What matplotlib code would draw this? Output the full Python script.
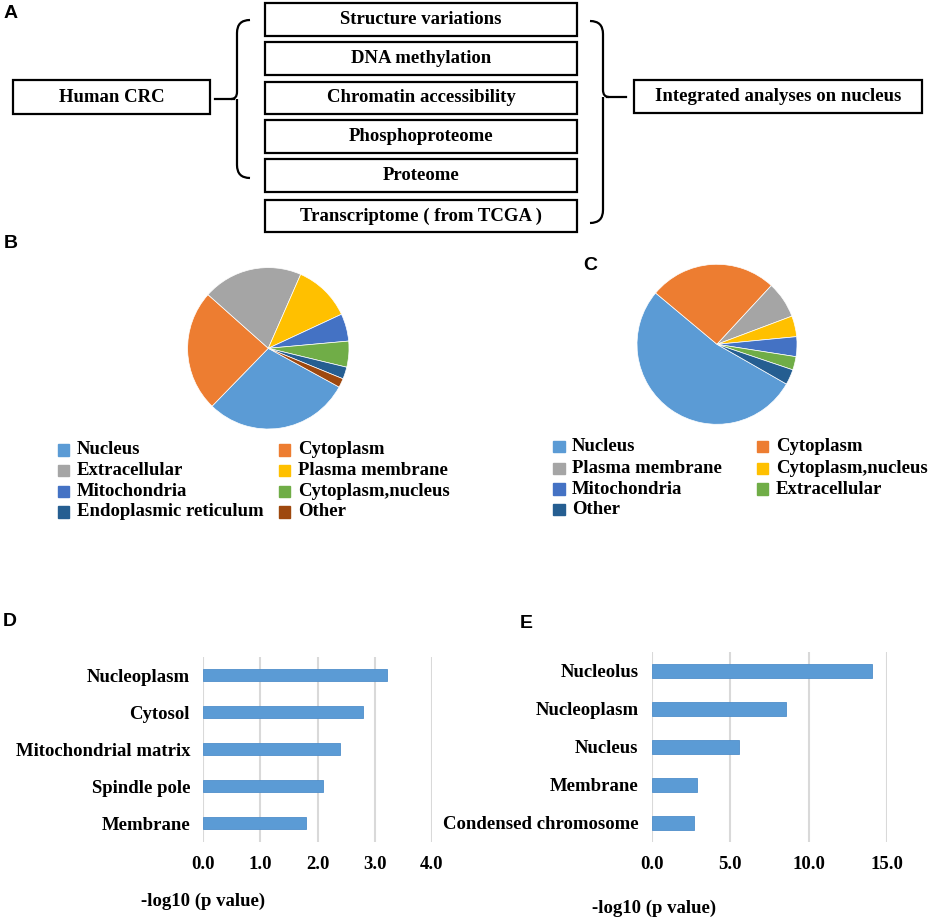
import matplotlib.pyplot as plt
from matplotlib.patches import Rectangle, PathPatch
from matplotlib.path import Path

W, H = 941, 923
SERIF = "Liberation Serif"
SANS = "Liberation Sans"
FS = 13.5

# panel A: workflow boxes
source_label = "Human CRC"
omics_labels = ["Structure variations", "DNA methylation", "Chromatin accessibility",
                "Phosphoproteome", "Proteome", "Transcriptome ( from TCGA )"]
target_label = "Integrated analyses on nucleus"

# panel B: subcellular location pie
b_labels = ["Nucleus", "Cytoplasm", "Extracellular", "Plasma membrane",
            "Mitochondria", "Cytoplasm,nucleus", "Endoplasmic reticulum", "Other"]
b_values = [29.3, 24.3, 20.0, 11.5, 5.5, 5.2, 2.4, 1.8]

# panel C
c_labels = ["Nucleus", "Cytoplasm", "Plasma membrane", "Cytoplasm,nucleus",
            "Mitochondria", "Extracellular", "Other"]
c_values = [52.8, 25.8, 7.4, 4.2, 4.0, 2.7, 3.1]

office = ["#5B9BD5", "#ED7D31", "#A5A5A5", "#FFC000", "#4472C4", "#70AD47", "#255E91", "#9E480E"]

# panel D / E: GO cellular component enrichment
d_terms = ["Nucleoplasm", "Cytosol", "Mitochondrial matrix", "Spindle pole", "Membrane"]
d_vals = [3.21, 2.80, 2.40, 2.10, 1.80]
e_terms = ["Nucleolus", "Nucleoplasm", "Nucleus", "Membrane", "Condensed chromosome"]
e_vals = [14.0, 8.53, 5.58, 2.90, 2.71]

fig = plt.figure(figsize=(W / 100, H / 100), dpi=100)

def px_axes(x0, y0, x1, y1):
    # axes from pixel box (top-left origin)
    return fig.add_axes([x0 / W, 1 - y1 / H, (x1 - x0) / W, (y1 - y0) / H])

ov = px_axes(0, 0, W, H)
ov.set_xlim(0, W)
ov.set_ylim(H, 0)
ov.axis("off")

# ---- panel A
def box(x0, y0, x1, y1, text):
    ov.add_patch(Rectangle((x0, y0), x1 - x0, y1 - y0, fill=False, lw=1.6, ec="black"))
    ov.text((x0 + x1) / 2, (y0 + y1) / 2, text, ha="center", va="center",
            family=SERIF, weight="bold", fontsize=FS)

box(13, 80, 210, 114, source_label)
rows = [(3, 36), (42, 75), (82, 114), (120, 153), (159, 192), (200, 232)]
for (y0, y1), lab in zip(rows, omics_labels):
    box(265, y0, 577, y1, lab)
box(634, 80, 922, 113, target_label)

M, C3, L = Path.MOVETO, Path.CURVE3, Path.LINETO
lb = Path([(250, 20), (237, 20), (237, 33), (237, 92), (237, 99), (231, 99),
           (237, 99), (237, 106), (237, 165), (237, 178), (250, 178)],
          [M, C3, C3, L, C3, C3, M, C3, L, C3, C3])
rb = Path([(590, 21), (603, 21), (603, 34), (603, 90), (603, 97), (609, 97),
           (603, 97), (603, 104), (603, 210), (603, 223), (590, 223)],
          [M, C3, C3, L, C3, C3, M, C3, L, C3, C3])
for p in (lb, rb):
    ov.add_patch(PathPatch(p, fill=False, lw=1.6, ec="black"))
ov.plot([215, 234], [99, 99], color="black", lw=1.6)
ov.plot([607, 626], [97, 97], color="black", lw=1.6)

# panel letters
for x, y, s in [(4, 14, "A"), (4, 244, "B"), (583, 265, "C"), (3, 621, "D"), (520, 623, "E")]:
    ov.text(x, y, s, ha="left", va="center", family=SANS, weight="bold", fontsize=14)

# ---- pies
def pie(cx, cy, r, values, start):
    ax = px_axes(cx - r, cy - r, cx + r, cy + r)
    ax.pie(values, colors=office[:len(values)], startangle=start, counterclock=False,
           wedgeprops=dict(edgecolor="white", linewidth=0.5))
    ax.set_xlim(-1, 1)
    ax.set_ylim(-1, 1)
    ax.axis("off")

pie(268.3, 348.3, 80.7, b_values, -28.7)
pie(717, 344.3, 80, c_values, -29.8)

def legend(labels, mx, tx, ys):
    for i, lab in enumerate(labels):
        r, c = divmod(i, 2)
        y = ys[r]
        ov.add_patch(Rectangle((mx[c], y - 5.8), 11.5, 11.5, color=office[i]))
        ov.text(tx[c], y, lab, ha="left", va="center", family=SERIF,
                weight="bold", fontsize=FS)

legend(b_labels, [58, 279], [77, 298], [450, 470.7, 491.3, 512])
legend(c_labels, [553.5, 757], [572, 776], [446.7, 468.3, 489, 509.3])

# ---- bar charts
def bars(box_px, terms, vals, xmax, step, height, label_xy):
    ax = px_axes(*box_px)
    ax.barh(range(len(terms)), vals, height=height, color="#5B9BD5", edgecolor="#4F8FCB", lw=0.6, zorder=3)
    ax.set_ylim(len(terms) - 0.5, -0.5)
    ax.set_xlim(0, xmax)
    ticks = [i * step for i in range(int(round(xmax / step)) + 1)]
    ax.set_xticks(ticks)
    ax.set_xticklabels([f"{t:.1f}" for t in ticks])
    ax.set_yticks(range(len(terms)))
    ax.set_yticklabels(terms)
    for s in ax.spines.values():
        s.set_visible(False)
    ax.grid(axis="x", color="#D9D9D9", lw=1.5, zorder=0)
    ax.tick_params(length=0)
    ax.tick_params(axis="x", pad=10.5)
    ax.tick_params(axis="y", pad=9.5)
    for t in ax.get_xticklabels() + ax.get_yticklabels():
        t.set_family(SERIF)
        t.set_weight("bold")
        t.set_fontsize(FS)
    ax.set_xlabel("-log10 (p value)", family=SERIF, weight="bold", fontsize=FS)
    ax.xaxis.set_label_coords(*label_xy)
    ax.xaxis.label.set_va("center")
    return ax

bars((203.3, 656.7, 431.7, 841.7), d_terms, d_vals, 4.0, 1.0, 0.33, (-0.003, -0.324))
bars((651.7, 651.7, 887.3, 841.7), e_terms, e_vals, 15.0, 5.0, 0.376, (0.01, -0.35))

fig.savefig("out.png", dpi=100)
